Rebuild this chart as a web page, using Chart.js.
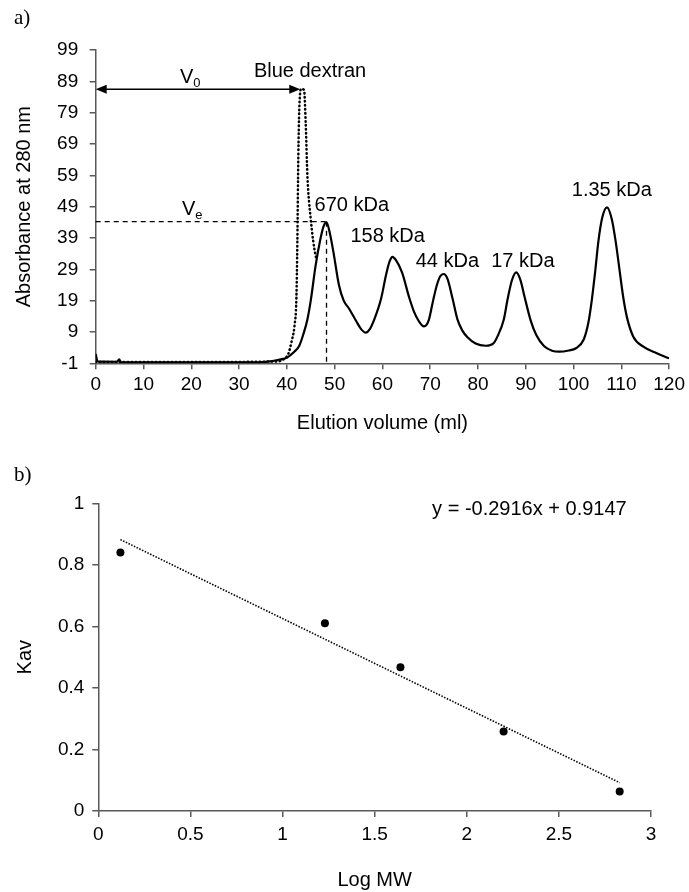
<!DOCTYPE html>
<html>
<head>
<meta charset="utf-8">
<title>Gel filtration</title>
<script src="https://cdn.jsdelivr.net/npm/chart.js@4.4.0/dist/chart.umd.min.js"></script>
<style>
  html, body { margin: 0; padding: 0; background: #fff; }
  #wrap { position: relative; width: 689px; height: 892px; }
  canvas { position: absolute; left: 0; }
  #chartA { top: 0; }
  #chartB { top: 445px; }
  .panel { position: absolute; left: 14px; font: 21px "Liberation Serif", "Times New Roman", serif; line-height: 20px; }
</style>
</head>
<body>
<div id="wrap">
  <canvas id="chartA" width="689" height="445"></canvas>
  <canvas id="chartB" width="689" height="447"></canvas>
  <div class="panel" style="top:7px">a)</div>
  <div class="panel" style="top:464px">b)</div>
</div>
<script>
// a) elution profile
const elutionVol = [0, 0.4, 4.5, 4.9, 5.3, 15, 30, 35, 37, 38.5, 40, 41.5, 42.6, 43.5, 44.3, 45, 46, 47, 47.7, 48.3,
  49, 49.8, 50.9, 51.9, 53, 54.5, 55.5, 56.5, 57.4, 58.3, 59.7, 60.8, 61.5, 62.1, 62.8, 64.1, 65.6, 66.6, 67.6, 68.7,
  69.7, 70.6, 71.4, 72.1, 72.8, 73.6, 74.7, 75.7, 76.7, 77.8, 79.5, 81.6, 83.3, 84.2, 85.4, 86.2, 87.1, 88, 88.9, 89.7,
  91, 92.2, 93.8, 95.5, 97, 99, 100.5, 102.1, 103.1, 103.8, 104.5, 105.2, 106, 107, 108, 108.8, 109.6, 110.4, 111.2, 112.5,
  114.6, 117.4, 120];
const absSample = [2.0, -0.4, -0.5, 0.3, -0.6, -0.7, -0.7, -0.6, -0.3, 0.2, 0.8, 2.6, 4.6, 8.5, 13, 19, 30, 38.5, 42.8, 44,
  40.5, 34, 24, 19, 16.5, 12.5, 10, 8.8, 10, 13, 19.5, 27.5, 31.5, 33, 32, 28, 20, 15.5, 12.5, 10.8,
  12.8, 19, 24, 26.8, 27.5, 26, 19.5, 13, 9.5, 7.3, 5.3, 4.6, 5.5, 8, 13, 19.5, 25.5, 28, 25.5, 20.5,
  12.8, 8, 4.5, 3, 2.7, 3.1, 3.8, 6.5, 12, 19, 28, 38, 45.5, 48.8, 45, 38, 29, 20, 13.5, 7.5,
  4.3, 2.2, 0.6];
const dextranVol = [0, 20, 38, 39.5, 40.3, 41, 41.6, 42, 42.2, 42.4, 42.6, 43, 43.6, 43.96, 44.3, 45, 46, 46.4];
const absDextran = [-0.6, -0.6, -0.4, 0.5, 2, 6, 11, 20, 38, 65, 80, 86.6, 86.2, 75, 59, 45, 33.5, 32];
const xTicksA = [0, 10, 20, 30, 40, 50, 60, 70, 80, 90, 100, 110, 120];
const yTicksA = [-1, 9, 19, 29, 39, 49, 59, 69, 79, 89, 99];
const peakNames = ['670 kDa', '158 kDa', '44 kDa', '17 kDa', '1.35 kDa'];
const peakNameX = [53.6, 61.1, 73.6, 89.4, 108.0];
const peakNameY = [49.5, 39.6, 31.6, 31.6, 54.3];
const v0Vol = 42.8, v0Abs = 86.5;
const veVol = 48.3, veAbs = 44.2;

// b) calibration
const logMW = [0.12, 1.23, 1.64, 2.2, 2.83];
const kav = [0.84, 0.61, 0.467, 0.258, 0.063];
const trendX = [0.12, 2.83];
const trendY = [0.882, 0.092];
const xTicksB = [0, 0.5, 1, 1.5, 2, 2.5, 3];
const yTicksB = [0, 0.2, 0.4, 0.6, 0.8, 1];
const equation = 'y = -0.2916x + 0.9147';

const FONT = '"Liberation Sans", Arial, sans-serif';
const AXIS = '#595959';
Chart.defaults.font.family = FONT;
Chart.defaults.color = '#000';

function axis(min, max, ticks, fitFn, tickPad, title, titlePad) {
  return {
    type: 'linear', min: min, max: max,
    afterBuildTicks: s => { s.ticks = ticks.map(v => ({ value: v })); },
    afterFit: fitFn,
    ticks: { autoSkip: false, maxRotation: 0, padding: tickPad, color: '#000', font: { size: 19 },
      callback: v => String(v) },
    grid: { drawOnChartArea: false, drawTicks: true, tickLength: 6, color: AXIS, lineWidth: 1.5 },
    border: { color: AXIS, width: 1.5 },
    title: { display: true, text: title, color: '#000', font: { size: 20 }, padding: titlePad }
  };
}

function arrowHead(ctx, x, y, dir) {
  ctx.beginPath();
  ctx.moveTo(x, y);
  ctx.lineTo(x - dir * 11, y - 4.5);
  ctx.lineTo(x - dir * 11, y + 4.5);
  ctx.closePath();
  ctx.fill();
}

function subText(ctx, main, sub, cx, baseline) {
  ctx.font = '20px ' + FONT;
  const w1 = ctx.measureText(main).width;
  ctx.font = '13px ' + FONT;
  const w2 = ctx.measureText(sub).width;
  const left = cx - (w1 + w2) / 2;
  ctx.textAlign = 'left';
  ctx.textBaseline = 'alphabetic';
  ctx.font = '20px ' + FONT;
  ctx.fillText(main, left, baseline);
  ctx.font = '13px ' + FONT;
  ctx.fillText(sub, left + w1, baseline + 4);
}

const annotateA = {
  id: 'annotateA',
  afterDatasetsDraw(chart) {
    const { ctx, scales: { x, y } } = chart;
    ctx.save();
    ctx.strokeStyle = '#000';
    ctx.fillStyle = '#000';

    // V0 double arrow
    const ay = y.getPixelForValue(v0Abs);
    const ax0 = x.getPixelForValue(0), ax1 = x.getPixelForValue(v0Vol);
    ctx.lineWidth = 1.5;
    ctx.beginPath();
    ctx.moveTo(ax0 + 6, ay);
    ctx.lineTo(ax1 - 6, ay);
    ctx.stroke();
    arrowHead(ctx, ax0, ay, -1);
    arrowHead(ctx, ax1, ay, 1);
    subText(ctx, 'V', '0', x.getPixelForValue(19.8), ay - 6);

    // Ve dashed guides
    const ey = y.getPixelForValue(veAbs);
    const ex = x.getPixelForValue(veVol);
    ctx.lineWidth = 1.3;
    ctx.setLineDash([5, 4]);
    ctx.beginPath();
    ctx.moveTo(x.getPixelForValue(0), ey);
    ctx.lineTo(ex, ey);
    ctx.moveTo(ex, ey);
    ctx.lineTo(ex, y.getPixelForValue(-1));
    ctx.stroke();
    ctx.setLineDash([]);
    subText(ctx, 'V', 'e', x.getPixelForValue(20.2), ey - 7);

    // labels
    ctx.font = '20px ' + FONT;
    ctx.textAlign = 'center';
    ctx.textBaseline = 'middle';
    ctx.fillText('Blue dextran', x.getPixelForValue(44.85), y.getPixelForValue(92));
    peakNames.forEach((t, i) => {
      ctx.fillText(t, x.getPixelForValue(peakNameX[i]), y.getPixelForValue(peakNameY[i]));
    });
    ctx.restore();
  }
};

const annotateB = {
  id: 'annotateB',
  afterDatasetsDraw(chart) {
    const { ctx, scales: { x, y } } = chart;
    ctx.save();
    ctx.fillStyle = '#000';
    ctx.font = '20px ' + FONT;
    ctx.textAlign = 'center';
    ctx.textBaseline = 'middle';
    ctx.fillText(equation, x.getPixelForValue(2.34), y.getPixelForValue(0.98));
    ctx.restore();
  }
};

new Chart(document.getElementById('chartA'), {
  type: 'line',
  data: {
    datasets: [
      {
        label: 'Blue dextran',
        data: dextranVol.map((v, i) => ({ x: v, y: absDextran[i] })),
        borderColor: '#000',
        borderWidth: 2.5,
        borderDash: [0.5, 3.5],
        borderCapStyle: 'round',
        pointRadius: 0,
        cubicInterpolationMode: 'monotone',
        fill: false
      },
      {
        label: 'Standards',
        data: elutionVol.map((v, i) => ({ x: v, y: absSample[i] })),
        borderColor: '#000',
        borderWidth: 2.2,
        pointRadius: 0,
        cubicInterpolationMode: 'monotone',
        fill: false
      }
    ]
  },
  options: {
    responsive: false,
    animation: false,
    layout: { padding: { top: 50, right: 17.3, bottom: 0, left: 0 } },
    plugins: { legend: { display: false }, tooltip: { enabled: false } },
    scales: {
      x: axis(0, 120, xTicksA, s => { s.height = 81.7; }, 4, 'Elution volume (ml)', { top: 0, bottom: 10 }),
      y: axis(-1, 99, yTicksA, s => { s.width = 95.7; }, 11.5, 'Absorbance at 280 nm', { top: 12, bottom: 0 })
    }
  },
  plugins: [annotateA]
});

new Chart(document.getElementById('chartB'), {
  type: 'scatter',
  data: {
    datasets: [
      {
        label: 'Kav',
        data: logMW.map((v, i) => ({ x: v, y: kav[i] })),
        backgroundColor: '#000',
        borderColor: '#000',
        borderWidth: 0,
        pointRadius: 4,
        showLine: false
      },
      {
        type: 'line',
        label: 'Linear fit',
        data: trendX.map((v, i) => ({ x: v, y: trendY[i] })),
        borderColor: '#000',
        borderWidth: 1.6,
        borderDash: [1.5, 1.5],
        pointRadius: 0,
        fill: false
      }
    ]
  },
  options: {
    responsive: false,
    animation: false,
    layout: { padding: { top: 58.3, right: 38, bottom: 0, left: 0 } },
    plugins: { legend: { display: false }, tooltip: { enabled: false } },
    scales: {
      x: axis(0, 3, xTicksB, s => { s.height = 81; }, 6.5, 'Log MW', { top: 0, bottom: 0 }),
      y: axis(0, 1, yTicksB, s => { s.width = 98.3; }, 8, 'Kav', { top: 13, bottom: 0 })
    }
  },
  plugins: [annotateB]
});
</script>
</body>
</html>
